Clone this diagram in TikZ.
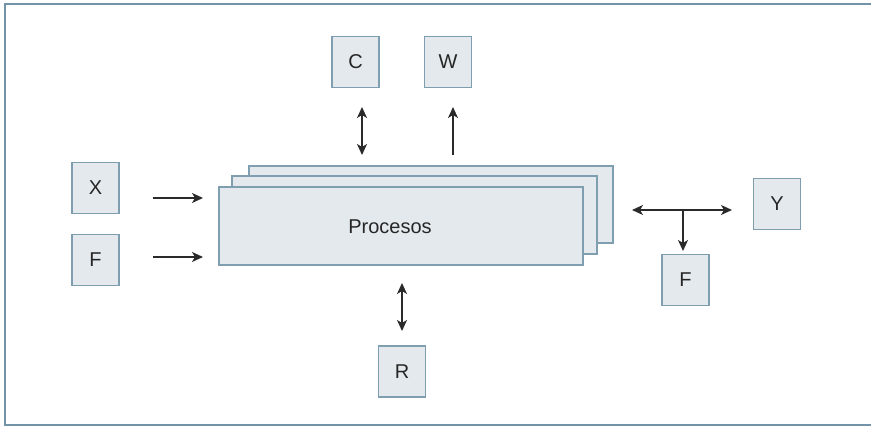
\documentclass[tikz,border=0pt]{standalone}
\usepackage{fontspec}
\setmainfont{Liberation Sans}
\usetikzlibrary{arrows.meta}
\definecolor{boxfill}{HTML}{E3E9ED}
\definecolor{boxline}{HTML}{7F9FB0}
\definecolor{frameline}{HTML}{7393A8}
\definecolor{arrowcol}{HTML}{2A2A2A}
\tikzset{
  lbox/.style={draw=boxline, fill=boxfill, line width=1.4pt, minimum width=47pt, minimum height=51pt, inner sep=0pt, font=\fontsize{20}{22}\selectfont, text=black!85},
  pbox/.style={draw=boxline, fill=boxfill, line width=1.4pt},
  conn/.style={draw=arrowcol, line width=1.5pt, -{Stealth[length=11pt,width=10pt,inset=3pt]}},
  dconn/.style={draw=arrowcol, line width=1.5pt, {Stealth[length=11pt,width=10pt,inset=3pt]}-{Stealth[length=11pt,width=10pt,inset=3pt]}}
}
\begin{document}
\begin{tikzpicture}[x=1pt,y=-1pt]
\useasboundingbox (0,0) rectangle (871,427);
\draw[frameline, line width=2pt] (871,4) -- (5,4) -- (5,425) -- (871,425);
% process stack
\draw[pbox] (249,166) rectangle (613,243);
\draw[pbox] (232,176) rectangle (597,254);
\node[pbox, minimum width=364pt, minimum height=78pt, inner sep=0pt] (P) at (401,226) {};
\node[font=\fontsize{20}{22}\selectfont, text=black!85] (Pt) at (390,227) {Procesos};
% boxes
\node[lbox] (C) at (355.5,62) {C};
\node[lbox] (W) at (448,62) {W};
\node[lbox] (X) at (95.5,188) {X};
\node[lbox] (F1) at (95.5,260) {F};
\node[lbox] (Y) at (777,204) {Y};
\node[lbox] (F2) at (685.5,280) {F};
\node[lbox] (R) at (402,371.5) {R};
% connector endpoints
\coordinate (ca) at (362,107); \coordinate (cb) at (362,155);
\coordinate (wa) at (453,155); \coordinate (wb) at (453,107);
\coordinate (xa) at (153,198); \coordinate (xb) at (203,198);
\coordinate (fa) at (153,257); \coordinate (fb) at (203,257);
\coordinate (ya) at (632,210); \coordinate (yb) at (732,210);
\coordinate (ja) at (683,210); \coordinate (jb) at (683,251);
\coordinate (ra) at (402,283); \coordinate (rb) at (402,331);
\draw[dconn] (ca) -- (cb);
\draw[conn] (wa) -- (wb);
\draw[conn] (xa) -- (xb);
\draw[conn] (fa) -- (fb);
\draw[dconn] (ya) -- (yb);
\draw[conn] (ja) -- (jb);
\draw[dconn] (ra) -- (rb);
\end{tikzpicture}
\end{document}
